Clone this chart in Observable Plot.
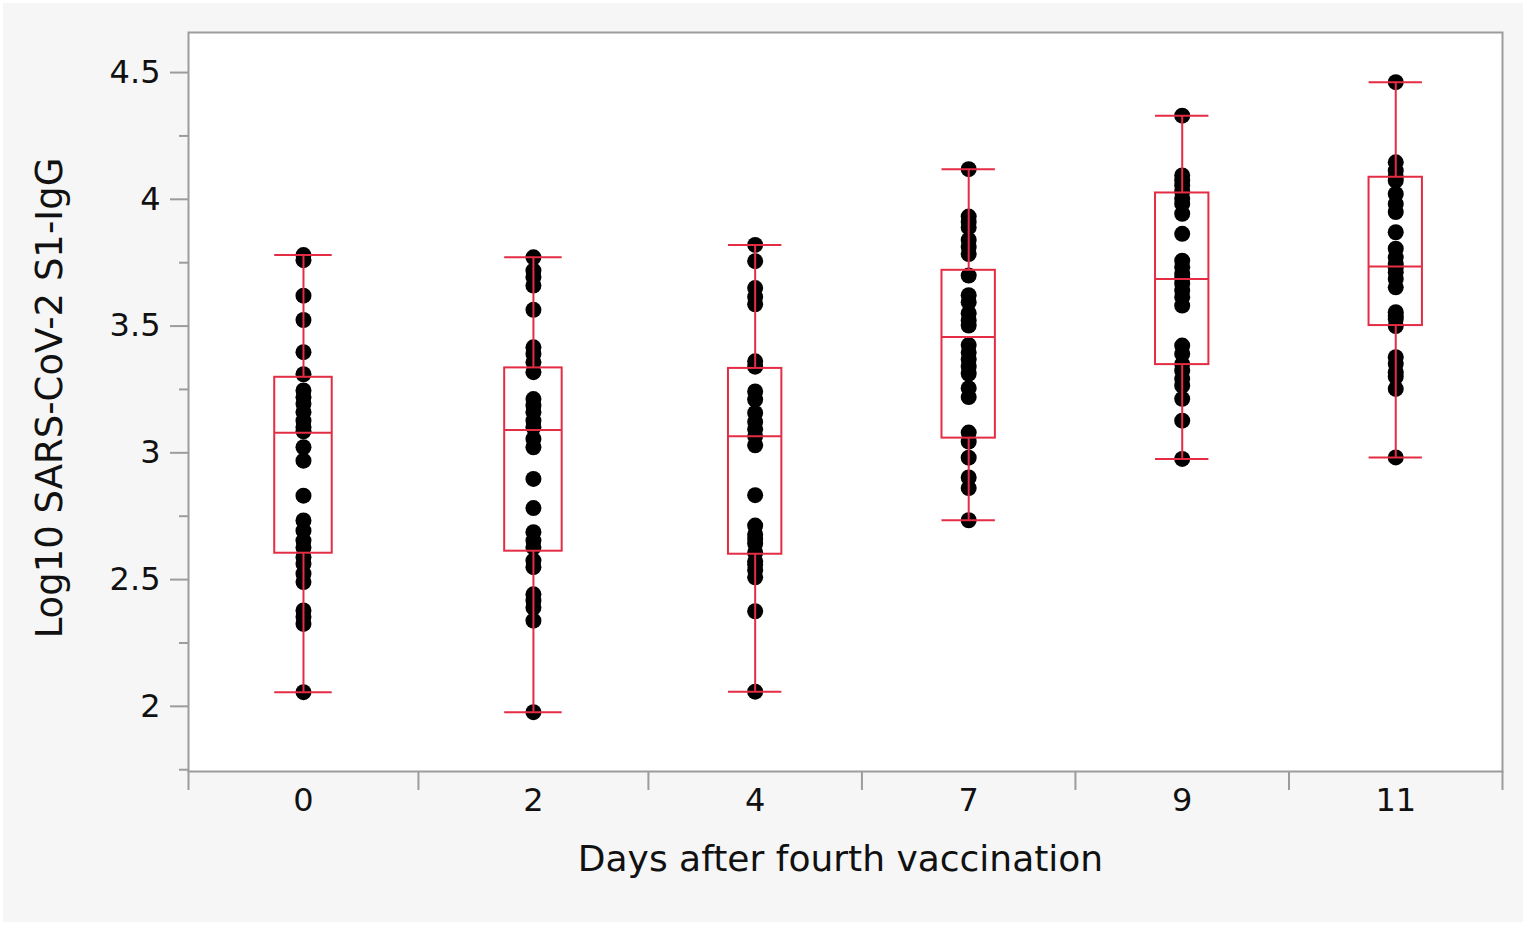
<!DOCTYPE html>
<html>
<head>
<meta charset="utf-8">
<script src="https://cdn.jsdelivr.net/npm/d3@7"></script>
<script src="https://cdn.jsdelivr.net/npm/@observablehq/plot@0.6"></script>
<style>
  body { margin: 0; background: #fff; }
  #wrap { position: relative; width: 1535px; height: 928px; overflow: hidden; }
  #bg { position: absolute; left: 3px; top: 3px; width: 1520px; height: 919px; background: #f6f6f6; }
  #chart { position: absolute; left: 0; top: 0; }
</style>
</head>
<body>
<div id="wrap"><div id="bg"></div><div id="chart"></div></div>
<script>
// Categories (days after fourth vaccination)
const days = ["0", "2", "4", "7", "9", "11"];

// Log10 SARS-CoV-2 S1-IgG per participant
const day0 = [3.78, 3.76, 3.62, 3.524, 3.397, 3.31, 3.246, 3.219, 3.193, 3.16, 3.127, 3.101, 3.085, 3.022,
              2.969, 2.831, 2.733, 2.693, 2.654, 2.627, 2.588, 2.562, 2.523, 2.49, 2.378, 2.352, 2.325, 2.056];
const day2 = [3.771, 3.719, 3.693, 3.66, 3.564, 3.416, 3.39, 3.357, 3.318, 3.212, 3.186, 3.16, 3.127, 3.101,
              3.055, 3.022, 2.897, 2.782, 2.687, 2.654, 2.627, 2.575, 2.549, 2.442, 2.417, 2.39, 2.338, 1.977];
const day4 = [3.82, 3.756, 3.65, 3.615, 3.586, 3.361, 3.34, 3.242, 3.21, 3.157, 3.122, 3.093, 3.065, 3.03,
              2.833, 2.713, 2.678, 2.66, 2.642, 2.607, 2.572, 2.56, 2.537, 2.509, 2.375, 2.058];
const day7 = [4.119, 3.932, 3.911, 3.889, 3.84, 3.812, 3.784, 3.699, 3.622, 3.594, 3.551, 3.523, 3.502,
              3.425, 3.396, 3.368, 3.34, 3.312, 3.255, 3.22, 3.08, 3.044, 2.981, 2.903, 2.861, 2.734];
const day9 = [4.33, 4.094, 4.074, 4.054, 4.03, 4.002, 3.982, 3.943, 3.864, 3.758, 3.732, 3.706, 3.69, 3.667,
              3.64, 3.614, 3.581, 3.423, 3.39, 3.35, 3.324, 3.292, 3.265, 3.213, 3.127, 2.976];
const day11 = [4.462, 4.146, 4.113, 4.09, 4.074, 4.021, 3.982, 3.95, 3.87, 3.805, 3.771, 3.745, 3.73, 3.712,
               3.686, 3.653, 3.555, 3.54, 3.528, 3.50, 3.377, 3.351, 3.318, 3.30, 3.252, 2.982];

// Box statistics
const q1 = [2.604, 2.612, 2.600, 3.058, 3.348, 3.502];
const medians = [3.079, 3.090, 3.065, 3.457, 3.686, 3.735];
const q3 = [3.298, 3.335, 3.333, 3.720, 4.025, 4.087];

// Tick values
const yTicks = [2, 2.5, 3, 3.5, 4, 4.5];
const yMinorTicks = [1.75, 2.25, 2.75, 3.25, 3.75, 4.25];

// ---- derived tables (x axis proportional to group size, as in JMP) ----
const groups = [day0, day2, day4, day7, day9, day11];
const counts = groups.map(g => g.length);
const bounds = [0, ...d3.cumsum(counts)];
const centers = counts.map((n, i) => bounds[i] + n / 2);
const points = groups.flatMap((g, i) => g.map(v => ({day: days[i], x: centers[i], value: v})));
const stats = days.map((d, i) => ({
  day: d,
  x: centers[i],
  x1: centers[i] - counts[i] * 0.125,
  x2: centers[i] + counts[i] * 0.125,
  min: d3.min(groups[i]),
  max: d3.max(groups[i]),
  q1: q1[i], median: medians[i], q3: q3[i]
}));

const red = "#e42d44";
const gray = "#9c9c9c";
const lw = 2;

const chart = Plot.plot({
  width: 1535,
  height: 928,
  marginLeft: 188,
  marginRight: 33,
  marginTop: 32,
  marginBottom: 157,
  style: {background: "transparent", fontFamily: "'DejaVu Sans', Verdana, sans-serif", color: "#111", overflow: "visible"},
  x: {domain: [0, bounds[bounds.length - 1]]},
  y: {domain: [1.743, 4.658]},
  marks: [
    Plot.frame({fill: "white", stroke: gray, strokeWidth: lw}),
    Plot.axisY(yTicks, {tickSize: 18, tickPadding: 10, fontSize: 32, stroke: gray, strokeWidth: lw, tickFormat: d => String(d), label: null}),
    Plot.axisY(yMinorTicks, {tickSize: 9, tickFormat: () => "", stroke: gray, strokeWidth: lw, label: null}),
    Plot.axisX(bounds, {tickSize: 19, tickFormat: () => "", stroke: gray, strokeWidth: lw, label: null}),
    Plot.axisX(centers, {tickSize: 0, tickPadding: 17, fontSize: 32, tickFormat: d => days[centers.indexOf(d)], label: null}),
    Plot.dot(points, {x: "x", y: "value", r: 8, fill: "#000"}),
    Plot.rect(stats, {x1: "x1", x2: "x2", y1: "q1", y2: "q3", fill: "none", stroke: red, strokeWidth: lw}),
    Plot.ruleY(stats, {y: "median", x1: "x1", x2: "x2", stroke: red, strokeWidth: lw}),
    Plot.ruleX(stats, {x: "x", y1: "q3", y2: "max", stroke: red, strokeWidth: lw}),
    Plot.ruleX(stats, {x: "x", y1: "min", y2: "q1", stroke: red, strokeWidth: lw}),
    Plot.ruleY(stats, {y: "max", x1: "x1", x2: "x2", stroke: red, strokeWidth: lw}),
    Plot.ruleY(stats, {y: "min", x1: "x1", x2: "x2", stroke: red, strokeWidth: lw}),
    Plot.text(["Days after fourth vaccination"], {frameAnchor: "bottom", dy: 88, dx: -5, fontSize: 36, textAnchor: "middle", lineAnchor: "middle", fill: "#111"}),
    Plot.text(["Log10 SARS-CoV-2 S1-IgG"], {frameAnchor: "left", dx: -138, dy: -4, rotate: -90, fontSize: 37, textAnchor: "middle", lineAnchor: "middle", fill: "#111"})
  ]
});
document.getElementById("chart").appendChild(chart);
</script>
</body>
</html>
